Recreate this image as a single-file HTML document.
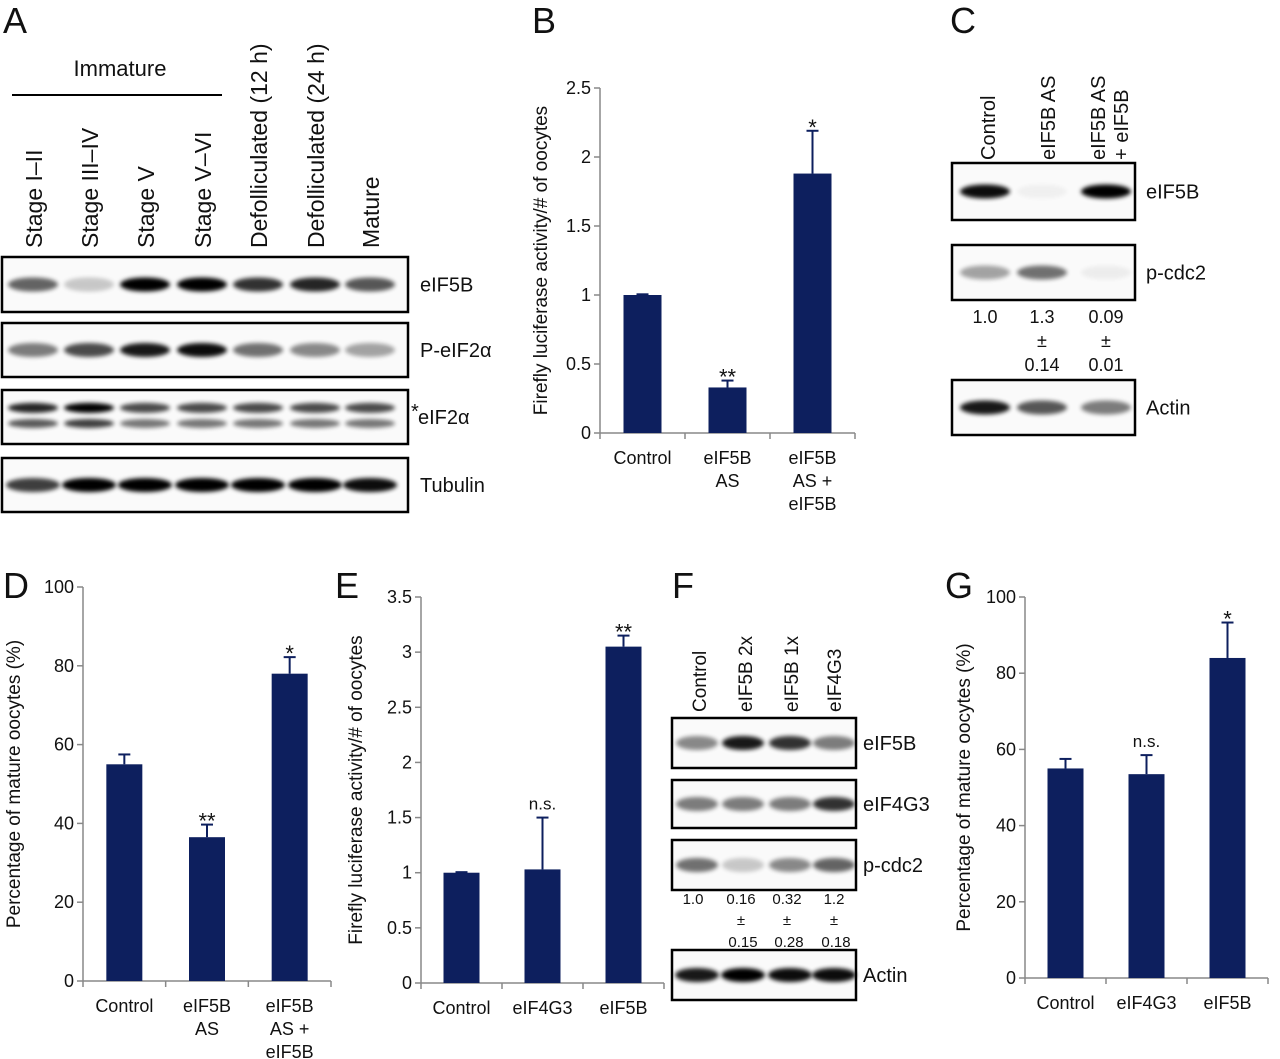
<!DOCTYPE html>
<html><head><meta charset="utf-8"><style>
html,body{margin:0;padding:0;background:#fff}
svg{display:block;font-family:"Liberation Sans",Arial,sans-serif}
</style></head><body>
<svg id="fig" width="1280" height="1059" viewBox="0 0 1280 1059" xmlns="http://www.w3.org/2000/svg">
<defs>
<filter id="blur" x="-50%" y="-100%" width="200%" height="300%"><feGaussianBlur stdDeviation="2"/></filter>
</defs>
</svg>
<script>
const NS='http://www.w3.org/2000/svg';
const svg=document.getElementById('fig');
function el(tag,attrs,parent,text){const e=document.createElementNS(NS,tag);for(const k in attrs)e.setAttribute(k,attrs[k]);if(text!==undefined)e.textContent=text;(parent||svg).appendChild(e);return e;}
function txt(x,y,s,size,anchor,rot,name){const a={x:x,y:y,'font-size':size,'text-anchor':anchor||'start',fill:'#111'};if(rot)a.transform='rotate(-90 '+x+' '+y+')';const t=el('text',a,svg,s);


return t;}

// ---- Chart data ----
const catsB=['Control','eIF5B|AS','eIF5B|AS +|eIF5B'];
const valsB=[1.0,0.33,1.88];
const errB=[0.005,0.05,0.31];
const sigB=['','**','*'];
const ticksB=['0','0.5','1','1.5','2','2.5'];

const catsD=['Control','eIF5B|AS','eIF5B|AS +|eIF5B'];
const valsD=[55,36.5,78];
const errD=[2.5,3.2,4.2];
const sigD=['','**','*'];
const ticksD=['0','20','40','60','80','100'];

const catsE=['Control','eIF4G3','eIF5B'];
const valsE=[1.0,1.03,3.05];
const errE=[0.005,0.47,0.1];
const sigE=['','n.s.','**'];
const ticksE=['0','0.5','1','1.5','2','2.5','3','3.5'];

const catsG=['Control','eIF4G3','eIF5B'];
const valsG=[55,53.5,84];
const errG=[2.5,5,9.3];
const sigG=['','n.s.','*'];
const ticksG=['0','20','40','60','80','100'];

function barChart(o){
  const g=el('g',{},svg);
  
  
  const max=parseFloat(o.ticks[o.ticks.length-1]);
  const y=v=>o.yB-(v/max)*(o.yB-o.yT);
  const n=o.cats.length, w=(o.xE-o.x0)/n;
  const xc=i=>o.x0+w*(i+0.5);
  el('line',{x1:o.x0,y1:o.yT,x2:o.x0,y2:o.yB,stroke:'#888','stroke-width':1.5},g);
  el('line',{x1:o.x0,y1:o.yB,x2:o.xE,y2:o.yB,stroke:'#888','stroke-width':1.5},g);
  o.ticks.forEach(t=>{const v=parseFloat(t);const yy=y(v);
    el('line',{x1:o.x0-6,y1:yy,x2:o.x0,y2:yy,stroke:'#888','stroke-width':1.5},g);
    const tl=el('text',{x:o.x0-9,y:yy+6,'font-size':18,'text-anchor':'end',fill:'#111'},g,t);
    
    
  });
  for(let i=0;i<=n;i++){el('line',{x1:o.x0+w*i,y1:o.yB,x2:o.x0+w*i,y2:o.yB+6,stroke:'#888','stroke-width':1.5},g);}
  o.vals.forEach((v,i)=>{
    const b=el('rect',{x:xc(i)-o.bw/2,y:y(v),width:o.bw,height:o.yB-y(v),fill:'#0d1f5e'},g);
    
    
    const et=y(v+o.err[i]);
    el('line',{x1:xc(i),y1:y(v),x2:xc(i),y2:et,stroke:'#0d1f5e','stroke-width':2},g);
    el('line',{x1:xc(i)-6,y1:et,x2:xc(i)+6,y2:et,stroke:'#0d1f5e','stroke-width':2},g);
    if(o.sig[i]){const s=el('text',{x:xc(i),y:et-(o.sig[i]=='n.s.'?8:-4),'font-size':o.sig[i]=='n.s.'?17:22,'text-anchor':'middle',fill:'#111'},g,o.sig[i]);
      
      }
    o.cats[i].split('|').forEach((ln,j)=>{const c=el('text',{x:xc(i),y:o.yB+31+j*23,'font-size':18,'text-anchor':'middle',fill:'#111'},g,ln);
      
      });
  });
  const t=el('text',{x:o.tx,y:(o.yT+o.yB)/2,'font-size':19,'text-anchor':'middle',fill:'#111',transform:'rotate(-90 '+o.tx+' '+(o.yT+o.yB)/2+')'},g,o.title);
  
  
}

barChart({name:'chart-b',x0:600,xE:855,yT:88,yB:433,bw:38,cats:catsB,vals:valsB,err:errB,sig:sigB,ticks:ticksB,tx:547,title:'Firefly luciferase activity/# of oocytes'});
barChart({name:'chart-d',x0:83,xE:331,yT:587,yB:981,bw:36,cats:catsD,vals:valsD,err:errD,sig:sigD,ticks:ticksD,tx:20,title:'Percentage of mature oocytes (%)'});
barChart({name:'chart-e',x0:421,xE:664,yT:597,yB:983,bw:36,cats:catsE,vals:valsE,err:errE,sig:sigE,ticks:ticksE,tx:362,title:'Firefly luciferase activity/# of oocytes'});
barChart({name:'chart-g',x0:1025,xE:1268,yT:597,yB:978,bw:36,cats:catsG,vals:valsG,err:errG,sig:sigG,ticks:ticksG,tx:970,title:'Percentage of mature oocytes (%)'});

// ---- Blots ----
function blot(name,x,y,w,h,lanes,ints,bw,label,lx,double){
  const g=el('g',{},svg);
  
  
  el('rect',{x:x,y:y,width:w,height:h,fill:'#fafafa',stroke:'#000','stroke-width':2.5},g);
  lanes.forEach((lx2,i)=>{
    const a=ints[i];
    if(double){
      el('ellipse',{cx:lx2,cy:y+h*0.33,rx:bw/2,ry:5,fill:'#000',opacity:a,filter:'url(#blur)'},g);
      el('ellipse',{cx:lx2,cy:y+h*0.62,rx:bw/2,ry:4.5,fill:'#000',opacity:a*0.75,filter:'url(#blur)'},g);
    } else {
      el('ellipse',{cx:lx2,cy:y+h/2,rx:bw/2,ry:7,fill:'#000',opacity:a,filter:'url(#blur)'},g);
    }
  });
  const t=el('text',{x:lx,y:y+h/2+7,'font-size':20,fill:'#111'},g,label);
  
  
}
const lanesA=[33,89,145,202,258,315,370];
blot('blot-a-eif5b',2,257,406,55,lanesA,[0.6,0.2,1,1,0.8,0.85,0.65],50,'eIF5B',420);
blot('blot-a-p-eif2a',2,323,406,54,lanesA,[0.5,0.7,0.9,0.95,0.55,0.45,0.35],50,'P-eIF2\u03b1',420);
blot('blot-a-eif2a',2,390,406,54,lanesA,[0.85,1,0.7,0.7,0.7,0.7,0.7],50,'eIF2\u03b1',418,true);
blot('blot-a-tubulin',2,458,406,54,lanesA,[0.75,1,1,1,1,1,0.95],54,'Tubulin',420);
txt(411,418,'*',20,'start',0,'asterisk');
const lanesC=[985,1042,1106];
blot('blot-c-eif5b',952,163,183,57,lanesC,[0.95,0.04,1],50,'eIF5B',1146);
blot('blot-c-p-cdc2',952,245,183,55,lanesC,[0.35,0.55,0.05],50,'p-cdc2',1146);
blot('blot-c-actin',952,380,183,55,lanesC,[0.9,0.65,0.5],50,'Actin',1146);
const lanesF=[697,743,790,834];
blot('blot-f-eif5b',672,718,184,50,lanesF,[0.45,0.9,0.8,0.5],42,'eIF5B',863);
blot('blot-f-eif4g3',672,780,184,48,lanesF,[0.5,0.5,0.5,0.8],42,'eIF4G3',863);
blot('blot-f-p-cdc2',672,840,184,50,lanesF,[0.55,0.2,0.45,0.6],42,'p-cdc2',863);
blot('blot-f-actin',672,950,184,50,lanesF,[0.9,1,0.95,0.95],44,'Actin',863);

// quantification numbers
[['1.0',985],['1.3',1042],['0.09',1106]].forEach(a=>txt(a[1],323,a[0],18,'middle',0,'quant-value'));
[['\u00b1',1042],['\u00b1',1106]].forEach(a=>txt(a[1],347,a[0],18,'middle',0,'quant-pm'));
[['0.14',1042],['0.01',1106]].forEach(a=>txt(a[1],371,a[0],18,'middle',0,'quant-sd'));
[['1.0',693],['0.16',741],['0.32',787],['1.2',834]].forEach(a=>txt(a[1],904,a[0],15,'middle',0,'quant-value'));
[['\u00b1',741],['\u00b1',787],['\u00b1',834]].forEach(a=>txt(a[1],925,a[0],15,'middle',0,'quant-pm'));
[['0.15',743],['0.28',789],['0.18',836]].forEach(a=>txt(a[1],947,a[0],15,'middle',0,'quant-sd'));

// panel letters
[['A',3,33],['B',532,33],['C',950,33],['D',3,598],['E',335,598],['F',672,598],['G',945,598]].forEach(a=>txt(a[1],a[2],a[0],36,'start',0,'panel-letter-'+a[0].toLowerCase()));

// Panel A header
txt(120,76,'Immature',22,'middle',0,'immature-label');
el('line',{x1:12,y1:95,x2:222,y2:95,stroke:'#000','stroke-width':2});
[['Stage I\u2013II',42],['Stage III\u2013IV',98],['Stage V',154],['Stage V\u2013VI',211],['Defolliculated  (12 h)',267],['Defolliculated  (24 h)',324],['Mature',379]].forEach(a=>txt(a[1],248,a[0],23,'start',1,'lane-label'));
// Panel C lanes
[['Control',995],['eIF5B AS',1055]].forEach(a=>txt(a[1],160,a[0],20,'start',1,'lane-label'));
txt(1105,160,'eIF5B AS',20,'start',1,'lane-label');
txt(1128,160,'+ eIF5B',20,'start',1,'lane-label');
// Panel F lanes
[['Control',706],['eIF5B  2x',752],['eIF5B  1x',798],['eIF4G3',841]].forEach(a=>txt(a[1],712,a[0],19,'start',1,'lane-label'));
</script>
</body></html>
